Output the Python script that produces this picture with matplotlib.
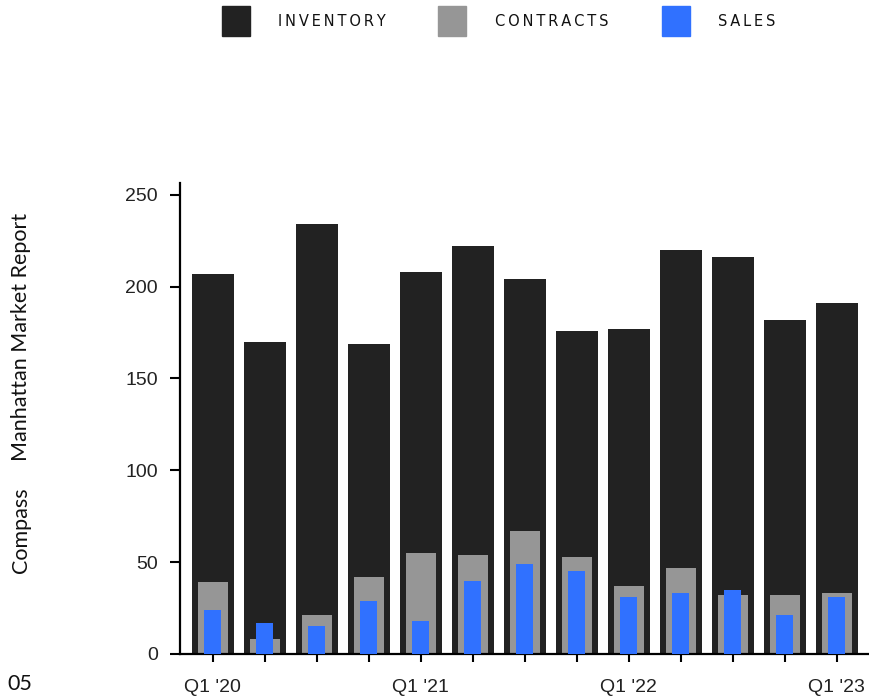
import matplotlib
matplotlib.use("Agg")
import matplotlib.pyplot as plt
from matplotlib.patches import Rectangle
import numpy as np

quarters = ["Q1 '20", "Q2 '20", "Q3 '20", "Q4 '20", "Q1 '21", "Q2 '21", "Q3 '21",
            "Q4 '21", "Q1 '22", "Q2 '22", "Q3 '22", "Q4 '22", "Q1 '23"]
inventory = [207, 170, 234, 169, 208, 222, 204, 176, 177, 220, 216, 182, 191]
contracts = [39, 8, 21, 42, 55, 54, 67, 53, 37, 47, 32, 32, 33]
sales = [24, 17, 15, 29, 18, 40, 49, 45, 31, 33, 35, 21, 31]
shown_labels = ["Q1 '20", "Q1 '21", "Q1 '22", "Q1 '23"]
series_names = ["INVENTORY", "CONTRACTS", "SALES"]

C_INV = "#222222"
C_CON = "#969696"
C_SAL = "#3071ff"
colors = [C_INV, C_CON, C_SAL]

plt.rcParams['font.family'] = ['Liberation Sans', 'DejaVu Sans']

W, H = 869, 697
fig = plt.figure(figsize=(W / 100, H / 100), dpi=100)
ax = fig.add_axes([0.207, 0.0617, 0.793, 0.676])

x = np.arange(len(quarters))
ax.bar(x, inventory, width=0.81, color=C_INV, zorder=1)
ax.bar(x, contracts, width=0.58, color=C_CON, zorder=2)
ax.bar(x, sales, width=0.33, color=C_SAL, zorder=3)

ax.set_xlim(-0.635, 12.62)
ax.set_ylim(0, 256.5)
ax.set_yticks([0, 50, 100, 150, 200, 250])
ax.set_xticks(x)
ax.set_xticklabels([q if q in shown_labels else "" for q in quarters])

for s in ["top", "right"]:
    ax.spines[s].set_visible(False)
for s in ["left", "bottom"]:
    ax.spines[s].set_linewidth(1.6)
    ax.spines[s].set_color("black")

ax.tick_params(axis="y", length=7, width=1.5, pad=9, labelsize=14, colors="black", labelcolor="#222222")
ax.tick_params(axis="x", length=6, width=1.5, pad=12, labelsize=14, colors="black", labelcolor="#222222")

# legend (drawn manually for exact placement)
ts = "\u2009"
sq_x = [222, 438, 662]
tx_x = [278, 495, 718]
for name, c, sx, tx in zip(series_names, colors, sq_x, tx_x):
    fig.patches.append(Rectangle((sx / W, 1 - 36 / H), 28 / W, 30 / H,
                                 transform=fig.transFigure, color=c, figure=fig))
    fig.text(tx / W, 1 - 21 / H, ts.join(list(name)), ha="left", va="center",
             fontsize=10.5, family=['DejaVu Sans'], color="#111111")

fig.text(0.024, 0.694, "Manhattan Market Report", rotation=90, ha="center", va="top",
         fontsize=15.5, family=['Lato', 'DejaVu Sans'], color="#111111")
fig.text(0.024, 0.178, "Compass", rotation=90, ha="center", va="bottom",
         fontsize=15.5, family=['Lato', 'DejaVu Sans'], color="#111111")
fig.text(0.009, 0.019, "05", ha="left", va="center", fontsize=15.5,
         family=['Lato', 'DejaVu Sans'], color="#111111")

fig.savefig("out.png", dpi=100)
